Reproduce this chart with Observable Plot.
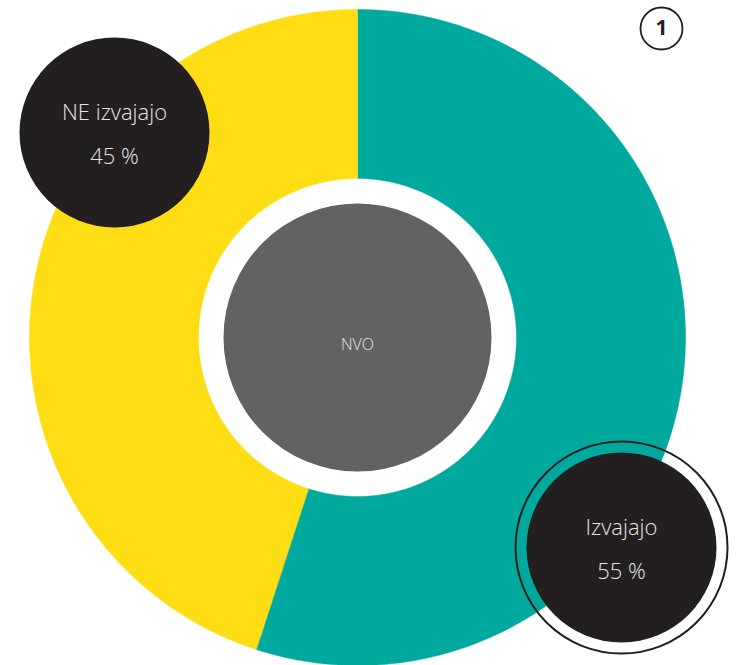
<!DOCTYPE html>
<html><head><meta charset="utf-8">
<script src="https://cdn.jsdelivr.net/npm/d3@7"></script>
<script src="https://cdn.jsdelivr.net/npm/@observablehq/plot@0.6"></script>
<style>html,body{margin:0;padding:0;background:#fff}</style>
</head><body><div id="chart"></div>
<script>
// ---- data ----
const categories = ["Izvajajo", "NE izvajajo"];
const values = [55, 45];
const valueLabels = ["55 %", "45 %"];
const centerLabel = ["NVO"];
const badgeLabel = ["1"];

// ---- layout & style ----
const W = 736, H = 665;
const cx = 357, cy = 337, rOuter = 328, rInner = 159, rCore = 134;
const colorOf = {"Izvajajo": "#00a99d", "NE izvajajo": "#fedd14"};
const bubblePos = {"Izvajajo": [621, 547], "NE izvajajo": [114, 132]};
const bubbleR = 95, ringR = 106;
const font = "'Open Sans', sans-serif";

const arcs = d3.pie().sort(null).value(d => d.value)(
  categories.map((c, i) => ({category: c, value: values[i], label: valueLabels[i]}))
);

const sectorPts = [];
for (const a of arcs) {
  const n = Math.ceil((a.endAngle - a.startAngle) / 0.005);
  for (let k = 0; k <= n; k++) {
    const t = a.startAngle + (a.endAngle - a.startAngle) * k / n;
    sectorPts.push({category: a.data.category, x: cx + rOuter * Math.sin(t), y: cy - rOuter * Math.cos(t)});
  }
  for (let k = n; k >= 0; k--) {
    const t = a.startAngle + (a.endAngle - a.startAngle) * k / n;
    sectorPts.push({category: a.data.category, x: cx + rInner * Math.sin(t), y: cy - rInner * Math.cos(t)});
  }
}

const bubbles = arcs.map(a => ({
  category: a.data.category, label: a.data.label,
  x: bubblePos[a.data.category][0], y: bubblePos[a.data.category][1]
}));

const chart = Plot.plot({
  width: W, height: H,
  margin: 0,
  x: {domain: [0, W], range: [0, W], axis: null},
  y: {domain: [0, H], range: [0, H], axis: null},
  style: {background: "#fff"},
  marks: [
    ...categories.map(c => Plot.line(sectorPts.filter(d => d.category === c), {
      x: "x", y: "y", curve: "linear-closed", fill: colorOf[c], stroke: colorOf[c], strokeWidth: 0.5
    })),
    Plot.dot(centerLabel, {x: () => cx, y: () => cy, r: rCore, fill: "#626262", stroke: "none"}),
    Plot.text(centerLabel, {x: () => cx, y: () => cy, dy: 7, text: d => d, fill: "#e4e4e4",
      fontSize: 16, fontFamily: font, fontWeight: 300}),
    Plot.dot(bubbles.filter(d => d.category === "Izvajajo"), {x: "x", y: "y", r: ringR, fill: "none", stroke: "#231f20", strokeWidth: 2}),
    Plot.dot(bubbles, {x: "x", y: "y", r: bubbleR, fill: "#231f20", stroke: "none"}),
    Plot.text(bubbles, {x: "x", y: "y", dy: -20, text: "category", fill: "#e4e4e4",
      fontSize: 22, fontFamily: font, fontWeight: 300}),
    Plot.text(bubbles, {x: "x", y: "y", dy: 24, text: "label", fill: "#e4e4e4",
      fontSize: 22, fontFamily: font, fontWeight: 300}),
    Plot.dot(badgeLabel, {x: () => 661, y: () => 28, r: 21, fill: "#fff", stroke: "#231f20", strokeWidth: 1.8}),
    Plot.text(badgeLabel, {x: () => 661, y: () => 28, text: d => d, fill: "#231f20",
      fontSize: 21, fontFamily: font, fontWeight: 700})
  ]
});
document.getElementById("chart").append(chart);
</script>
</body></html>
